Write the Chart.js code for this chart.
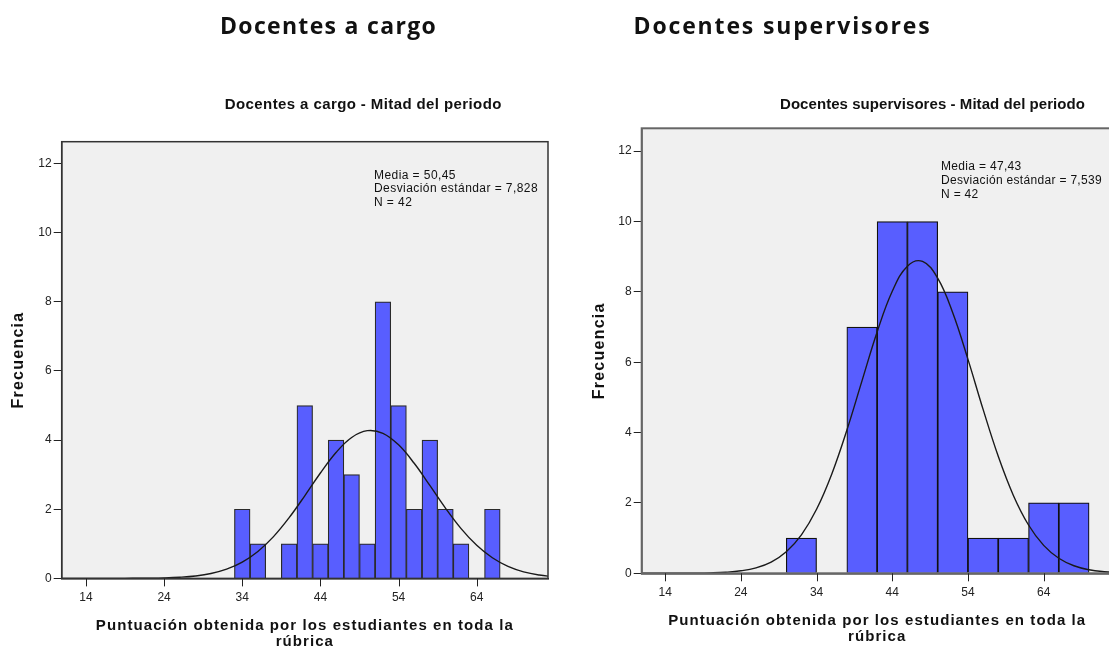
<!DOCTYPE html>
<html lang="es">
  <head>
    <meta charset="UTF-8" />
    <title>Docentes a cargo / Docentes supervisores - Mitad del periodo</title>
    <script src="https://cdn.jsdelivr.net/npm/chart.js"></script>
    <style>
      html, body { margin: 0; padding: 0; background: #fff; overflow: hidden; }
      body { width: 1109px; height: 652px; position: relative; }
      .panel { position: absolute; top: 0; }
      #panelLeft { left: 0; }
      #panelRight { left: 580px; }
    </style>
  </head>
  <body>
    <div class="panel" id="panelLeft"><canvas id="chartLeft" width="560" height="652"></canvas></div>
    <div class="panel" id="panelRight"><canvas id="chartRight" width="540" height="652"></canvas></div>
    <script>
      // eje x y eje y
      var xTicks = [14, 24, 34, 44, 54, 64]
      var yTicks = [0, 2, 4, 6, 8, 10, 12]
      var xTitle = ["Puntuación obtenida por los estudiantes en toda la", "rúbrica"]
      var yTitle = "Frecuencia"

      // Docentes a cargo (intervalos de 2 puntos, centro de cada barra)
      var cargoBins = [34, 36, 38, 40, 42, 44, 46, 48, 50, 52, 54, 56, 58, 60, 62, 64, 66]
      var cargoCounts = [2, 1, 0, 1, 5, 1, 4, 3, 1, 8, 5, 2, 4, 2, 1, 0, 2]
      var cargoStats = ["Media = 50,45", "Desviación estándar = 7,828", "N = 42"]

      // Docentes supervisores (intervalos de 4 puntos)
      var superBins = [32, 36, 40, 44, 48, 52, 56, 60, 64, 68]
      var superCounts = [1, 0, 7, 10, 10, 8, 1, 1, 2, 2]
      var superStats = ["Media = 47,43", "Desviación estándar = 7,539", "N = 42"]

      // curva normal
      var curveX = [10, 12, 14, 16, 18, 20, 22, 24, 26, 28, 30, 32, 34, 36, 38, 40, 42, 44, 46, 48, 50, 52, 54, 56, 58, 60, 62, 64, 66, 68, 70, 72, 74]
      var cargoCurve = [0, 0, 0.0001, 0.0003, 0.0008, 0.0024, 0.006, 0.014, 0.033, 0.07, 0.141, 0.266, 0.471, 0.779, 1.208, 1.756, 2.389, 3.048, 3.642, 4.076, 4.273, 4.197, 3.862, 3.329, 2.689, 2.034, 1.441, 0.957, 0.596, 0.347, 0.189, 0.097, 0.046]
      var superCurve = [0, 0.0001, 0.0005, 0.0016, 0.0044, 0.012, 0.03, 0.071, 0.156, 0.321, 0.615, 1.094, 1.82, 2.818, 4.066, 5.47, 6.859, 8.016, 8.732, 8.865, 8.388, 7.398, 6.081, 4.659, 3.326, 2.214, 1.373, 0.794, 0.428, 0.215, 0.1, 0.044, 0.018]

      var narrow = '"Liberation Sans Narrow", "Liberation Sans", Arial, sans-serif'
      var sans = '"Liberation Sans", Arial, sans-serif'

      function spacingFor(ctx, text, font, width) {
        ctx.save()
        ctx.font = font
        ctx.letterSpacing = "0px"
        var w = ctx.measureText(text).width
        ctx.restore()
        return (width - w) / text.length
      }

      function drawText(ctx, text, x, y, font, spacing, align, baseline) {
        ctx.save()
        ctx.font = font
        ctx.letterSpacing = (spacing || 0) + "px"
        ctx.textAlign = align || "left"
        ctx.textBaseline = baseline || "middle"
        ctx.fillStyle = "#111"
        ctx.fillText(text, x, y)
        ctx.restore()
      }

      var spssPlugin = {
        id: "spss",
        beforeDraw: function (chart) {
          var ctx = chart.ctx
          var a = chart.chartArea
          ctx.save()
          ctx.fillStyle = "#ffffff"
          ctx.fillRect(0, 0, chart.width, chart.height)
          ctx.fillStyle = "#f0f0f0"
          ctx.fillRect(a.left, a.top, a.right - a.left, a.bottom - a.top)
          ctx.restore()
        },
        afterDatasetsDraw: function (chart, args, opts) {
          var ctx = chart.ctx
          var a = chart.chartArea
          ctx.save()
          ctx.strokeStyle = opts.frameColor
          ctx.lineWidth = opts.frameWidth
          ctx.strokeRect(a.left, a.top, a.right - a.left, a.bottom - a.top)
          // marcas del eje x
          ctx.strokeStyle = "#222"
          ctx.lineWidth = 1
          ctx.beginPath()
          xTicks.forEach(function (v) {
            var px = Math.round(chart.scales.x.getPixelForValue(v)) + 0.5
            ctx.moveTo(px, a.bottom)
            ctx.lineTo(px, a.bottom + 8)
          })
          ctx.stroke()
          ctx.restore()
        },
        afterDraw: function (chart, args, opts) {
          var ctx = chart.ctx
          var a = chart.chartArea
          var cx = (a.left + a.right) / 2

          var hf = 'bold 23px "Open Sans", "Noto Sans", sans-serif'
          drawText(ctx, opts.header, opts.headerX, 34, hf, spacingFor(ctx, opts.header, hf, opts.headerW), "center", "alphabetic")

          var tf = "bold 15px " + narrow
          drawText(ctx, opts.title, opts.titleX, 105, tf, spacingFor(ctx, opts.title, tf, opts.titleW), "center")

          var sf = "12px " + narrow
          var ss = spacingFor(ctx, opts.stats[1], sf, opts.statsW)
          opts.stats.forEach(function (s, i) {
            drawText(ctx, s, opts.statsX, opts.statsY + i * 13.6, sf, ss)
          })

          var yf = "bold 16px " + sans
          ctx.save()
          ctx.translate(opts.yTitleX, (a.top + a.bottom) / 2)
          ctx.rotate(-Math.PI / 2)
          drawText(ctx, yTitle, 0, 0, yf, spacingFor(ctx, yTitle, yf, 97), "center")
          ctx.restore()

          var xf = "bold 15px " + sans
          var xs = spacingFor(ctx, xTitle[0], xf, 418)
          xTitle.forEach(function (line, i) {
            drawText(ctx, line, cx, a.bottom + 47.3 + i * 16.6, xf, xs, "center")
          })
        },
      }

      function makeChart(id, bins, counts, curve, cfg) {
        var ctx = document.getElementById(id).getContext("2d")
        return new Chart(ctx, {
          type: "bar",
          data: {
            datasets: [
              {
                type: "line",
                data: curveX.map(function (x, i) { return { x: x, y: curve[i] } }),
                borderColor: "#1a1a1a",
                borderWidth: 1.4,
                pointRadius: 0,
                fill: false,
                tension: 0.4,
                order: 0,
              },
              {
                type: "bar",
                data: bins.map(function (x, i) { return { x: x, y: counts[i] } }),
                backgroundColor: "#585eff",
                borderColor: cfg.barBorder,
                borderWidth: 1.2,
                borderSkipped: "start",
                barPercentage: 1,
                categoryPercentage: 1,
                order: 1,
              },
            ],
          },
          options: {
            responsive: false,
            animation: false,
            events: [],
            layout: { padding: { top: cfg.top, right: cfg.right, left: 0, bottom: 0 } },
            scales: {
              x: {
                type: "linear",
                min: 10.9,
                max: 73.12,
                offset: false,
                afterBuildTicks: function (scale) {
                  scale.ticks = xTicks.map(function (v) { return { value: v } })
                },
                afterFit: function (scale) { scale.height = cfg.xAxisH },
                grid: { display: false, offset: false, tickLength: 8 },
                border: { display: true, color: "#111", width: 1.5 },
                ticks: { padding: 4, color: "#222", font: { family: sans, size: 12 }, maxRotation: 0 },
              },
              y: {
                type: "linear",
                min: 0,
                max: cfg.ymax,
                afterBuildTicks: function (scale) {
                  scale.ticks = yTicks.map(function (v) { return { value: v } })
                },
                afterFit: function (scale) { scale.width = 61.7 },
                grid: { drawOnChartArea: false, drawTicks: true, tickLength: 8, color: "#222", lineWidth: 1 },
                border: { display: true, color: "#333", width: 1.5 },
                ticks: { padding: 2, color: "#222", font: { family: sans, size: 12 } },
              },
            },
            plugins: {
              legend: { display: false },
              tooltip: { enabled: false },
              spss: cfg.text,
            },
          },
          plugins: [spssPlugin],
        })
      }

      makeChart("chartLeft", cargoBins, cargoCounts, cargoCurve, {
        top: 141.7, right: 12, xAxisH: 73.6, ymax: 12.63, barBorder: "#2a2a2a",
        text: {
          header: "Docentes a cargo", headerX: 328.5, headerW: 217,
          title: "Docentes a cargo - Mitad del periodo", titleX: 363.3, titleW: 277,
          stats: cargoStats, statsX: 374, statsY: 175.5, statsW: 164,
          yTitleX: 18.3, frameColor: "#333", frameWidth: 1.5,
        },
      })

      makeChart("chartRight", superBins, superCounts, superCurve, {
        top: 128.3, right: 7.3, xAxisH: 78.7, ymax: 12.65, barBorder: "#111",
        text: {
          header: "Docentes supervisores", headerX: 202.5, headerW: 298,
          title: "Docentes supervisores - Mitad del periodo", titleX: 352.5, titleW: 305,
          stats: superStats, statsX: 361, statsY: 167, statsW: 161,
          yTitleX: 20, frameColor: "#666", frameWidth: 2,
        },
      })
    </script>
  </body>
</html>
